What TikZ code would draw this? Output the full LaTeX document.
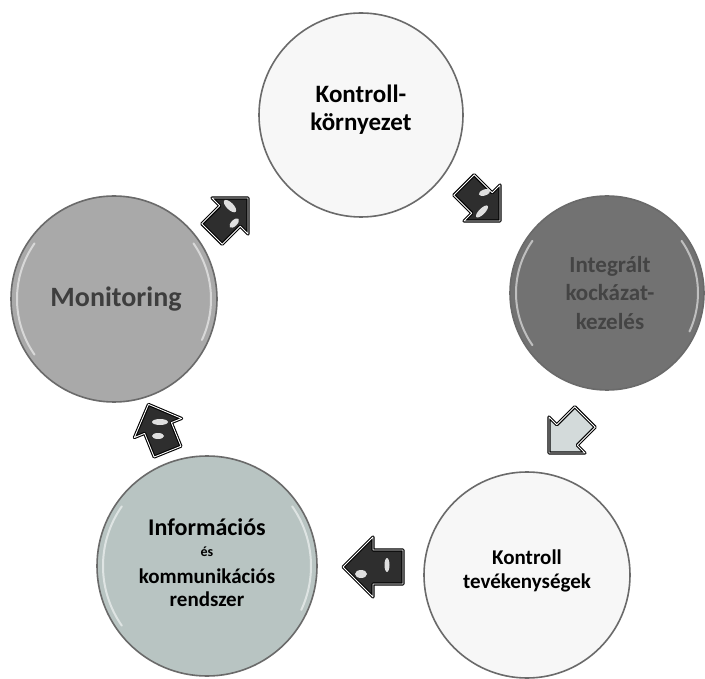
\documentclass[tikz,border=0pt]{standalone}
\usepackage{fontspec}
\setmainfont{Carlito}
\definecolor{rimgray}{HTML}{6A6A6A}
\definecolor{whitefill}{HTML}{F7F7F7}
\definecolor{darkfill}{HTML}{727272}
\definecolor{midfill}{HTML}{A9A9A9}
\definecolor{bluefill}{HTML}{B8C4C2}
\definecolor{darktext}{HTML}{3E3E3E}
\definecolor{risktext}{HTML}{444444}
\definecolor{arrowdark}{HTML}{2E2E2E}
\definecolor{arrowlight}{HTML}{D3DADA}
\tikzset{
  ball/.style={circle, draw=rimgray, line width=1.6pt, inner sep=0pt},
  label/.style={align=center, inner sep=0pt},
  gloss/.style={white, line width=2pt, opacity=0.55, line cap=round},
  spot/.style={fill=white, opacity=0.85},
  blockarr/.pic={
    \coordinate (-c) at (0,0);
    \filldraw[fill=#1, draw=black, line width=1.1pt, double=white, double distance=0.9pt, line join=round]
      (-30,-17) -- (0,-17) -- (0,-30) -- (30,0) -- (0,30) -- (0,17) -- (-30,17) -- cycle;
  }
}
\begin{document}
\begin{tikzpicture}[x=1pt,y=-1pt]
\useasboundingbox (0,0) rectangle (705,679);
\fill[white] (0,0) rectangle (705,679);

% circles
\node[ball, fill=whitefill, minimum size=204pt] (ctrlenv) at (361,115) {};
\node[ball, fill=darkfill, minimum size=194pt] (risk) at (607,293) {};
\node[ball, fill=whitefill, minimum size=206pt] (activ) at (527,575) {};
\node[ball, fill=bluefill, minimum size=220pt] (info) at (207,566) {};
\node[ball, fill=midfill, minimum size=206pt] (monit) at (114,299) {};

% glossy rims
\foreach \c/\r in {risk/91, monit/97, info/104}{
  \draw[gloss] (\c.center) ++(145:\r) arc (145:215:\r);
  \draw[gloss] (\c.center) ++(-35:\r) arc (-35:25:\r);
}

% texts
\node[label, font=\bfseries\fontsize{25}{28}\selectfont] (ctrlenv-t) at ([yshift=5pt]ctrlenv.center) {Kontroll-\\környezet};
\node[label, text=risktext, font=\bfseries\fontsize{23}{28.5}\selectfont] (risk-t) at ([xshift=3pt]risk.center) {Integrált\\kockázat-\\kezelés};
\node[label, font=\bfseries\fontsize{21}{24}\selectfont] (activ-t) at ([yshift=4pt]activ.center) {Kontroll\\tevékenységek};
\node[label, font=\bfseries\fontsize{21}{24}\selectfont] (info-t) at ([yshift=3pt]info.center) {%
  {\fontsize{24}{26}\selectfont Információs}\\[-3pt]
  {\fontsize{14}{16}\selectfont és}\\[3pt]
  kommunikációs\\[-1pt]
  rendszer};
\node[label, text=darktext, font=\bfseries\fontsize{28}{30}\selectfont] (monit-t) at ([xshift=2pt]monit.center) {Monitoring};

% block arrows
\pic[rotate=45, scale=0.85] (arr1) at (230,216) {blockarr=arrowdark};
\pic[rotate=-45, scale=0.85] (arr2) at (482,203) {blockarr=arrowdark};
\pic[rotate=-135, scale=0.85] (arr3) at (567,435) {blockarr=arrowlight};
\pic[rotate=180] (arr4) at (373,567) {blockarr=arrowdark};
\pic[rotate=112, scale=0.85] (arr5) at (158,428) {blockarr=arrowdark};

% highlights on the dark arrows
\fill[spot, rotate around={-45:(arr1-c)}] ([xshift=-7pt,yshift=7pt]arr1-c) ellipse (8pt and 3.5pt);
\fill[spot, rotate around={-45:(arr1-c)}] ([xshift=8pt,yshift=-2pt]arr1-c) ellipse (3pt and 6pt);
\fill[spot, rotate around={45:(arr2-c)}] ([xshift=-6pt,yshift=-6pt]arr2-c) ellipse (8pt and 3pt);
\fill[spot, rotate around={20:(arr2-c)}] ([xshift=6pt,yshift=9pt]arr2-c) ellipse (6pt and 3pt);
\fill[spot] ([xshift=-12pt,yshift=-7pt]arr4-c) ellipse (6pt and 4pt);
\fill[spot] ([xshift=14pt,yshift=2pt]arr4-c) ellipse (2.5pt and 7pt);
\fill[spot] ([xshift=0pt,yshift=-8pt]arr5-c) ellipse (6pt and 3pt);
\fill[spot] ([xshift=2pt,yshift=6pt]arr5-c) ellipse (8pt and 3pt);
\end{tikzpicture}
\end{document}
